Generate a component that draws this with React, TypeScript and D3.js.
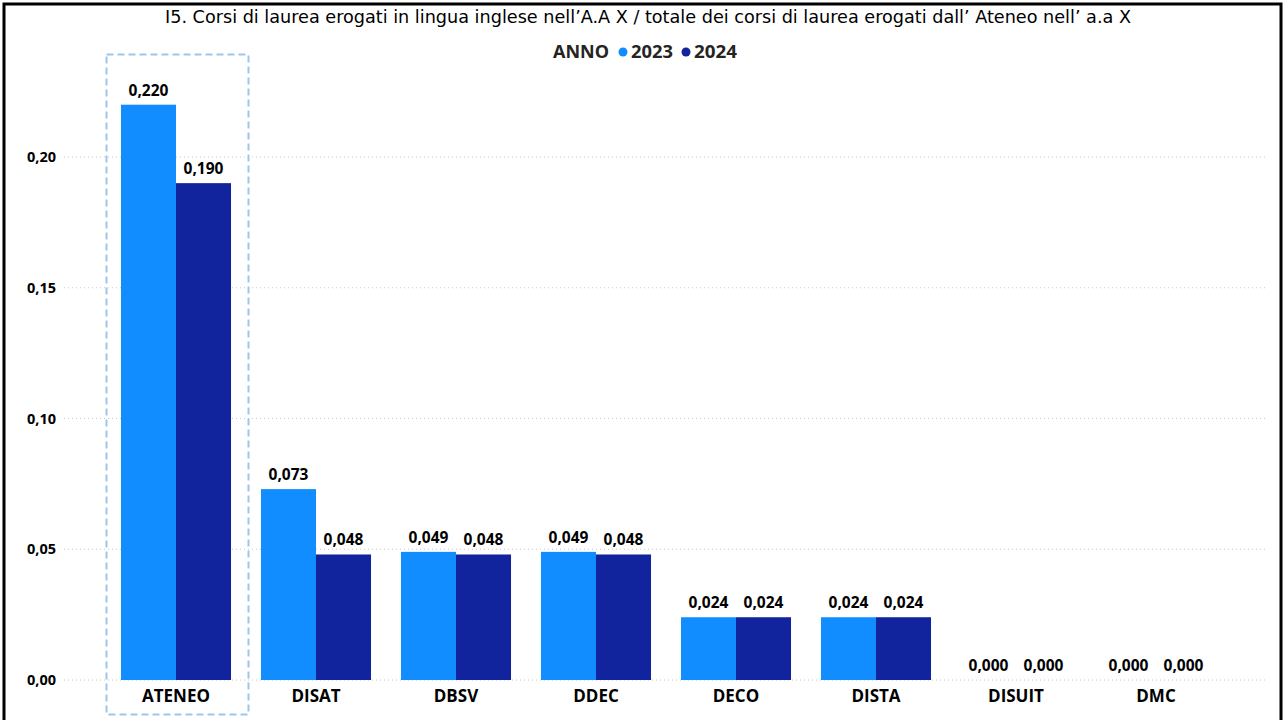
import React from "react";
import * as d3 from "d3";

const categories = ["ATENEO", "DISAT", "DBSV", "DDEC", "DECO", "DISTA", "DISUIT", "DMC"];
const series2023 = [0.22, 0.073, 0.049, 0.049, 0.024, 0.024, 0.0, 0.0];
const series2024 = [0.19, 0.048, 0.048, 0.048, 0.024, 0.024, 0.0, 0.0];
const years = ["2023", "2024"];
const yTicks = [0, 0.05, 0.1, 0.15, 0.2];
const title = "I5. Corsi di laurea erogati in lingua inglese nell\u2019A.A X / totale dei corsi di laurea erogati dall\u2019 Ateneo nell\u2019 a.a X";

const W = 1285;
const H = 720;
const colors = ["#118DFF", "#12239E"];
const fmt2 = (v: number) => v.toFixed(2).replace(".", ",");
const fmt3 = (v: number) => v.toFixed(3).replace(".", ",");
const font = "'Open Sans', 'Noto Sans', sans-serif";

export default function App() {
  const x = d3.scaleBand<string>().domain(categories).range([106, 1226]).paddingInner(0.214).paddingOuter(0.107);
  const inner = d3.scaleBand<string>().domain(years).range([0, x.bandwidth()]);
  const y = d3.scaleLinear().domain([0, 0.2]).range([680, 157]);
  const seriesData = [series2023, series2024];

  return (
    <svg width={W} height={H} style={{ position: "absolute", left: 0, top: 0, background: "#fff" }}>
      <rect x={0} y={0} width={W} height={H} fill="#fff" />
      <rect x={4} y={4} width={1277} height={740} fill="none" stroke="#000" strokeWidth={3} />
      <text x={648} y={23} textAnchor="middle" fontFamily="'Liberation Sans Narrow', 'DejaVu Sans Condensed', sans-serif" fontSize={18} fill="#000" textLength={966} lengthAdjust="spacingAndGlyphs">{title}</text>
      {/* legend */}
      <g fontFamily={font} fontWeight="bold" fontSize={17} fill="#252423">
        <text x={553} y={58} textLength={56} lengthAdjust="spacingAndGlyphs">ANNO</text>
        <circle cx={623} cy={52} r={4.5} fill={colors[0]} />
        <text x={631} y={58} textLength={42} lengthAdjust="spacingAndGlyphs">2023</text>
        <circle cx={686} cy={52} r={4.5} fill={colors[1]} />
        <text x={694} y={58} textLength={43} lengthAdjust="spacingAndGlyphs">2024</text>
      </g>
      {/* gridlines */}
      {yTicks.map((t) => (
        <g key={t}>
          <line x1={64} x2={1266} y1={y(t)} y2={y(t)} stroke="#c8c8c8" strokeWidth={1} strokeDasharray="1,3" />
          <text x={56} y={y(t) + 5} textAnchor="end" fontFamily={font} fontWeight="bold" fontSize={14.5} fill="#000">{fmt2(t)}</text>
        </g>
      ))}
      {/* bars */}
      {categories.map((c, i) => (
        <g key={c}>
          {seriesData.map((s, j) => {
            const bx = (x(c) as number) + (inner(years[j]) as number);
            const bw = inner.bandwidth();
            const by = y(s[i]);
            return (
              <g key={j}>
                <rect x={bx} y={by} width={bw} height={y(0) - by} fill={colors[j]} />
                <text x={bx + bw / 2} y={by - 9} textAnchor="middle" fontFamily={font} fontWeight="bold" fontSize={15.5} fill="#000">{fmt3(s[i])}</text>
              </g>
            );
          })}
          <text x={(x(c) as number) + x.bandwidth() / 2} y={702} textAnchor="middle" fontFamily={font} fontWeight="bold" fontSize={17} fill="#000">{c}</text>
        </g>
      ))}
      {/* selection box */}
      <rect x={106.5} y={54.5} width={142} height={660} fill="none" stroke="#9ec5ec" strokeWidth={2} strokeDasharray="7,4" />
    </svg>
  );
}
